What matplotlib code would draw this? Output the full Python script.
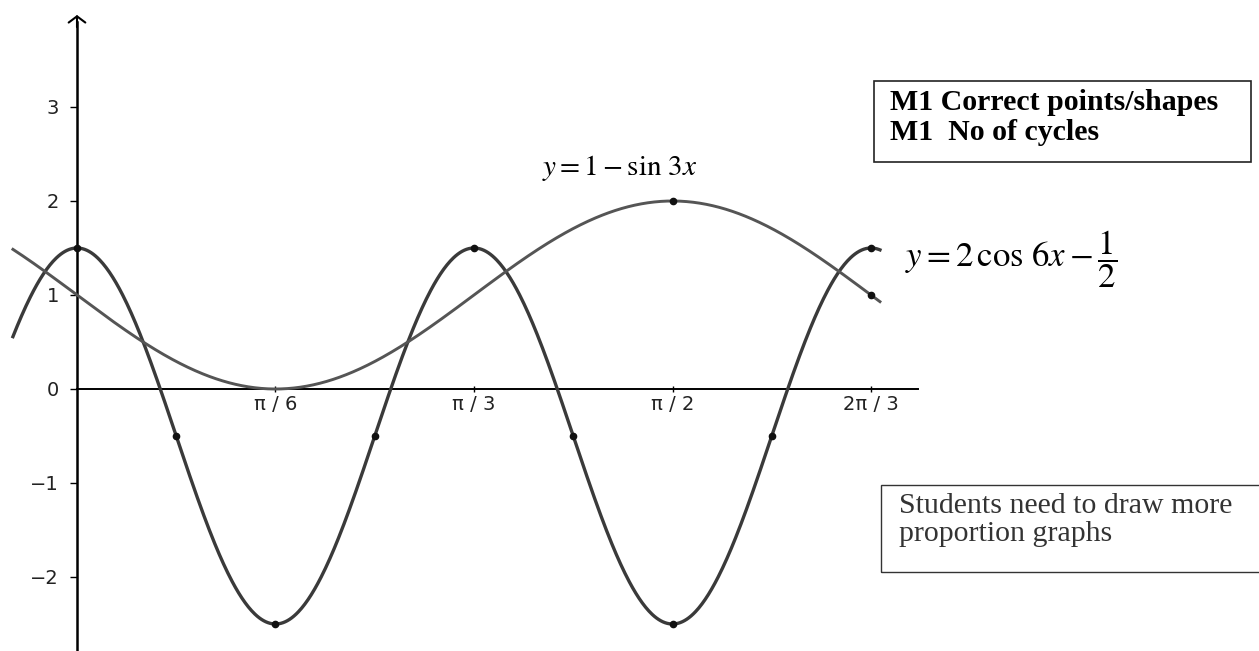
import numpy as np
import matplotlib.pyplot as plt
from matplotlib.patches import Rectangle

plt.rcParams['mathtext.fontset'] = 'stix'

W, H = 1259, 651

# y = 2cos6x - 1/2  and  y = 1 - sin3x
cos_amp, cos_freq, cos_shift = 2.0, 6.0, -0.5
sin_amp, sin_freq, sin_shift = 1.0, 3.0, 1.0
x_start, x_end = -0.169, 2.118

# marked points, as multiples of pi
cos_pts = [0, 1/12, 1/6, 1/4, 1/3, 5/12, 1/2, 7/12, 2/3]
sin_pts = [1/2, 2/3]

xtick_pos = [1/6, 1/3, 1/2, 2/3]
xtick_lbl = ['π / 6', 'π / 3', 'π / 2', '2π / 3']
ytick_pos = [-2, -1, 0, 1, 2, 3]

box1_lines = ['M1 Correct points/shapes', 'M1  No of cycles']
box2_lines = ['Students need to draw more', 'proportion graphs']

# pixel layout of the axes
X0, Y0 = 77, 389
PXX = 198.5 / (np.pi / 6)
PXY = 94.0


def fpos(px, py):
    return px / W, 1 - py / H


def f_cos(x):
    return cos_amp * np.cos(cos_freq * x) + cos_shift


def f_sin(x):
    return sin_shift - sin_amp * np.sin(sin_freq * x)


fig = plt.figure(figsize=(W / 100, H / 100), dpi=100)
ax = fig.add_axes([0, 0, 1, 1])
ax.set_xlim(-X0 / PXX, (W - X0) / PXX)
ax.set_ylim((Y0 - H) / PXY, Y0 / PXY)
ax.patch.set_alpha(0)

for s in ['top', 'right']:
    ax.spines[s].set_visible(False)
ax.spines['left'].set_position(('data', 0))
ax.spines['bottom'].set_position(('data', 0))
ax.spines['left'].set_bounds((Y0 - H) / PXY, 3.9)
ax.spines['bottom'].set_bounds(0, (918 - X0) / PXX)
ax.spines['left'].set_linewidth(1.8)
ax.spines['bottom'].set_linewidth(1.4)

ax.annotate('', xy=(0, (Y0 - 15) / PXY), xytext=(0, 3.85),
            arrowprops=dict(arrowstyle='->, head_length=0.45, head_width=0.6',
                            lw=1.5, color='black', shrinkA=0, shrinkB=0))

ax.set_xticks(np.array(xtick_pos) * np.pi)
ax.set_xticklabels(xtick_lbl)
ax.set_yticks(ytick_pos)
ax.set_yticklabels([str(v).replace('-', '\u2212') for v in ytick_pos])
ax.tick_params(axis='y', direction='out', length=5, width=1, pad=8,
               labelsize=14, labelcolor='#222222')
ax.tick_params(axis='x', direction='inout', length=5, width=1, pad=2,
               labelsize=14, labelcolor='#222222')

xs = np.linspace(x_start, x_end, 800)
ax.plot(xs, f_cos(xs), color='#3a3a3a', lw=2.4, zorder=3)
ax.plot(xs, f_sin(xs), color='#555555', lw=2.1, zorder=3)

cx = np.array(cos_pts) * np.pi
sx = np.array(sin_pts) * np.pi
ax.plot(cx, f_cos(cx), 'o', color='#111111', ms=4.5, zorder=4)
ax.plot(sx, f_sin(sx), 'o', color='#111111', ms=4.5, zorder=4)

# curve labels
fig.text(*fpos(542, 168), r'$y=1-\sin\,3x$', fontsize=21,
         ha='left', va='center')
fig.text(*fpos(905, 259), r'$y=2\,\cos\,6x-\dfrac{1}{2}$', fontsize=25,
         ha='left', va='center')

# marking notes
fig.add_artist(Rectangle(fpos(874, 162), (1251 - 874) / W, (162 - 81) / H,
                         transform=fig.transFigure, fill=False,
                         ec='#222222', lw=1.2))
for line, py in zip(box1_lines, [103, 132]):
    fig.text(*fpos(890, py), line, family='Liberation Serif',
             weight='bold', fontsize=21.5, ha='left', va='center')

fig.add_artist(Rectangle(fpos(881, 572), (1270 - 881) / W, (572 - 485) / H,
                         transform=fig.transFigure, fill=False,
                         ec='#333333', lw=1.0))
for line, py in zip(box2_lines, [506, 534]):
    fig.text(*fpos(899, py), line, family='Liberation Serif',
             fontsize=21.5, color='#333333', ha='left', va='center')

fig.savefig('out.png', dpi=100, facecolor='white')
